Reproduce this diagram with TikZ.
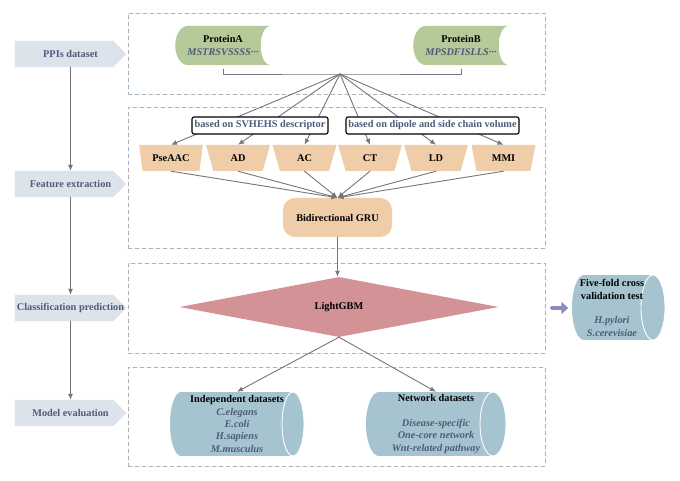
\documentclass[tikz,border=0pt]{standalone}
\usepackage{fontspec}
\setmainfont{Liberation Serif}
\usetikzlibrary{arrows.meta,shapes.geometric,calc,backgrounds}
\definecolor{labfill}{RGB}{221,227,234}
\definecolor{txtblue}{RGB}{78,92,122}
\definecolor{framegray}{RGB}{168,180,190}
\definecolor{linegray}{RGB}{118,118,124}
\definecolor{stagegray}{RGB}{112,112,118}
\definecolor{protfill}{RGB}{182,201,152}
\definecolor{tanfill}{RGB}{238,205,168}
\definecolor{lgbmfill}{RGB}{211,146,150}
\definecolor{cylfill}{RGB}{166,196,207}
\definecolor{lavender}{RGB}{138,140,190}
\newcommand\seqtxt[1]{\textcolor{txtblue}{\itshape #1}}

\begin{document}
\begin{tikzpicture}[
  x=1pt,y=-1pt,
  line cap=round,line join=round,
  font=\fontsize{10.3}{12.3}\selectfont\bfseries,
  >={Latex[length=6pt,width=5pt]},
  stage/.style={text=txtblue,minimum width=111pt,minimum height=26pt,inner sep=0pt},
  frame/.style={draw=framegray,dash pattern=on 4pt off 3pt,line width=0.8pt,minimum width=417pt,inner sep=0pt},
  protein/.style={align=center,minimum width=96pt,minimum height=39pt,inner sep=0pt},
  desc/.style={draw=black,line width=1.1pt,rounded corners=2pt,fill=white,text=txtblue,minimum height=17pt,inner sep=0pt},
  feat/.style={trapezium,trapezium angle=72,trapezium stretches=true,shape border rotate=180,fill=tanfill,minimum width=64pt,minimum height=26pt,inner sep=0pt},
  gru/.style={rectangle,rounded corners=12pt,fill=tanfill,minimum width=109pt,minimum height=39pt},
  lgbm/.style={diamond,aspect=5.3,fill=lgbmfill,minimum width=319pt,minimum height=60pt,inner sep=0pt},
  cyltext/.style={align=center,minimum height=64pt,inner sep=0pt},
  link/.style={draw=linegray,line width=0.9pt},
  arr/.style={link,->},
  stagearr/.style={draw=stagegray,line width=1.1pt,->},
  fatarr/.style={draw=lavender,line width=4.5pt,-{Triangle[length=7pt,width=12pt]}}
]
  % Stage labels on the left
  \node[stage] (ppi) at (70.5,54) {PPIs dataset};
  \node[stage] (fex) at (70.5,184) {Feature extraction};
  \node[stage] (cls) at (70.5,308) {Classification prediction};
  \node[stage] (mev) at (70.5,413) {Model evaluation};
  \draw[stagearr] (ppi) -- (fex);
  \draw[stagearr] (fex) -- (cls);
  \draw[stagearr] (cls) -- (mev);

  % Dashed frames
  \node[frame,minimum height=81pt] (fr1) at (336.5,53.5) {};
  \node[frame,minimum height=141pt] (fr2) at (336.5,177.5) {};
  \node[frame,minimum height=90pt] (fr3) at (336.5,308) {};
  \node[frame,minimum height=99pt] (fr4) at (336.5,416.5) {};

  % Proteins
  \node[protein] (pa) at (223,45.5) {ProteinA\\\seqtxt{MSTRSVSSSS···}};
  \node[protein] (pb) at (461,45.5) {ProteinB\\\seqtxt{MPSDFISLLS···}};
  \coordinate (hub) at (340,74);
  \draw[link] ([yshift=-4pt]pa.south) |- (hub) -| ([yshift=-4pt]pb.south);

  % Feature extraction
  \node[gru] (gru) at (337.5,217.5) {Bidirectional GRU};
  \foreach \n/\x/\t in {psa/171/PseAAC,ad/238/AD,ac/304.5/AC,ct/370/CT,ld/436/LD,mmi/503.5/MMI}
    \node[feat] (\n) at (\x,158) {\t};
  \foreach \n in {psa,ad,ac,ct,ld,mmi} {
    \draw[arr] (hub) -- (\n.north);
    \draw[arr] (\n.south) -- (gru.north);
  }
  \node[desc,minimum width=136pt] (svh) at (260,125.5) {based on SVHEHS descriptor};
  \node[desc,minimum width=173pt] (dip) at (432.5,125.5) {based on dipole and side chain volume};

  % Classification
  \node[lgbm] (gbm) at (339,307) {LightGBM};
  \draw[arr] (gru.south) -- (gru.south |- gbm.north);
  \node[cyltext,minimum width=81pt] (ffv) at (612,308)
    {Five-fold cross\\validation test\\[\baselineskip]\seqtxt{H.pylori}\\\seqtxt{S.cerevisiae}};
  \draw[fatarr] ([xshift=7pt]fr3.east) -- ([xshift=-3pt]ffv.west);

  % Model evaluation
  \node[cyltext] (ind) at (237,424)
    {Independent datasets\\\seqtxt{C.elegans}\\\seqtxt{E.coli}\\\seqtxt{H.sapiens}\\\seqtxt{M.musculus}};
  \node[cyltext] (net) at (436,424)
    {Network datasets\\[\baselineskip]\seqtxt{Disease-specific}\\\seqtxt{One-core network}\\\seqtxt{Wnt-related pathway}};
  \draw[arr] (gbm.south) -- (ind.north);
  \draw[arr] (gbm.south) -- (net.north);

  % Shapes behind the texts
  \begin{scope}[on background layer]
    \fill[white] (0,0) rectangle (680,481);
    \foreach \s in {ppi,fex,cls,mev}
      \fill[labfill] (\s.north west) -- ([xshift=-13pt]\s.north east) -- (\s.east)
        -- ([xshift=-13pt]\s.south east) -- (\s.south west) -- cycle;
    \foreach \p in {pa,pb}
      \fill[protfill] ([xshift=14pt]\p.north west) -- (\p.north east)
        .. controls ([xshift=-14pt]\p.north east) and ([xshift=-14pt]\p.south east) .. (\p.south east)
        -- ([xshift=14pt]\p.south west)
        .. controls ([xshift=-4pt]\p.south west) and ([xshift=-4pt]\p.north west) .. ([xshift=14pt]\p.north west)
        -- cycle;
    % cylinders: left x, right x, centre y, end radii
    \foreach \xa/\xb/\yc/\rx/\ry in {170/304/424/11/32,366/506/424/13/32,572/665/307.5/12/32.5} {
      \fill[cylfill] (\xa+\rx,\yc-\ry) rectangle (\xb-\rx,\yc+\ry);
      \fill[cylfill] (\xa+\rx,\yc) ellipse[x radius=\rx pt,y radius=\ry pt];
      \fill[cylfill] (\xb-\rx,\yc) ellipse[x radius=\rx pt,y radius=\ry pt];
      \draw[white,line width=0.9pt] (\xb-\rx,\yc) ellipse[x radius=\rx pt,y radius=\ry pt];
    }
  \end{scope}
  \useasboundingbox (0,0) rectangle (680,481);
\end{tikzpicture}
\end{document}
